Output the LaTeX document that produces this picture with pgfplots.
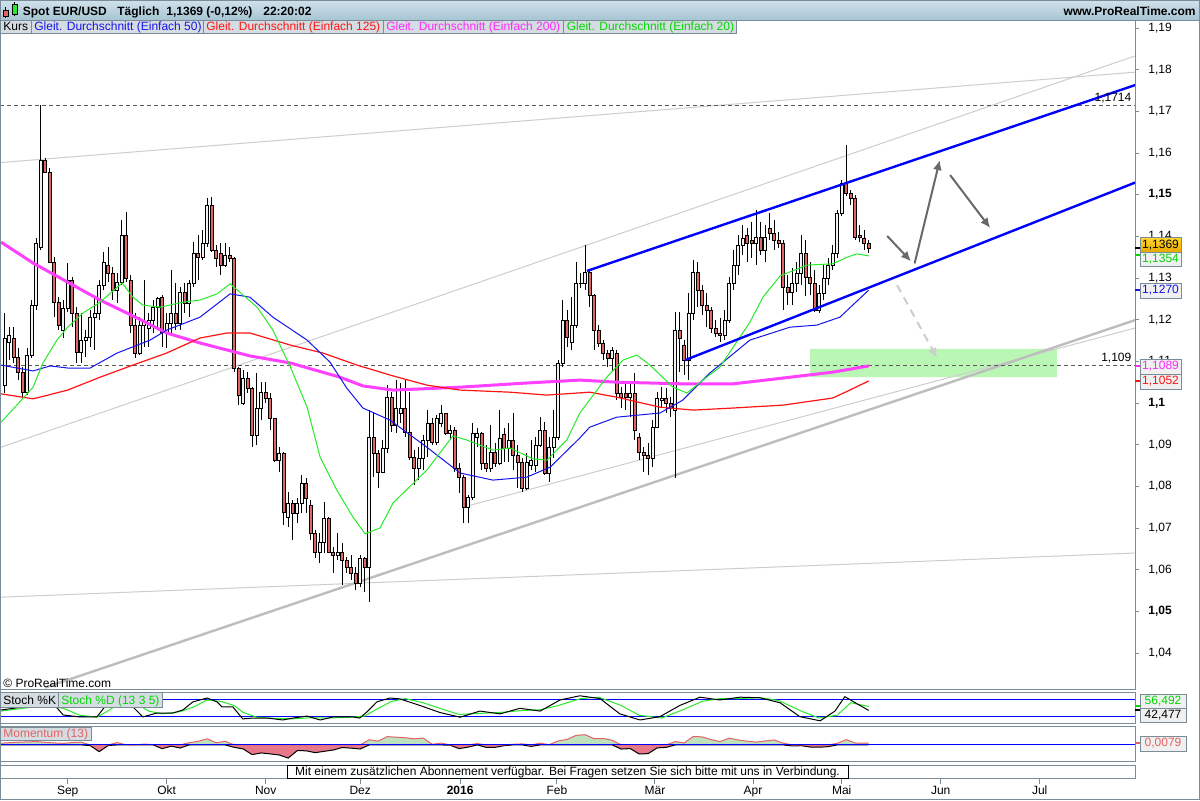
\documentclass[border=0pt]{standalone}
\usepackage{pgfplots}
\pgfplotsset{compat=1.18}
\usepackage{pgfplotstable}
\usepackage{fontspec}
\setmainfont{Liberation Sans}
\usetikzlibrary{arrows.meta}

\definecolor{prtgray}{RGB}{122,140,152}
\definecolor{candlered}{RGB}{224,102,98}
\definecolor{candlewhite}{RGB}{242,242,242}
\definecolor{ma200}{RGB}{255,64,255}
\definecolor{ma20}{RGB}{40,235,40}
\definecolor{ma50}{RGB}{20,20,235}
\definecolor{ma125}{RGB}{255,20,20}
\definecolor{trendgray}{RGB}{205,205,205}
\definecolor{chanblue}{RGB}{0,0,255}
\definecolor{rectgreen}{RGB}{186,246,180}
\definecolor{arrowgray}{RGB}{105,105,105}
\definecolor{hdrtop}{RGB}{208,226,236}
\definecolor{hdrbot}{RGB}{166,196,210}
\definecolor{legfill}{RGB}{214,221,226}
\definecolor{boxfill}{RGB}{240,240,240}
\definecolor{goldtop}{RGB}{255,214,50}
\definecolor{goldbot}{RGB}{232,168,0}
\definecolor{momred}{RGB}{230,120,138}
\definecolor{momgreen}{RGB}{190,226,190}
\definecolor{momline}{RGB}{228,98,98}
\definecolor{txtgreen}{RGB}{0,215,0}
\definecolor{txtmag}{RGB}{255,40,255}

\pgfplotstableread[row sep=\\]{
i O H L C\\
-14 1.1041 1.1216 1.1024 1.1156\\
-13 1.1146 1.1182 1.1103 1.1161\\
-12 1.1156 1.1182 1.1096 1.1110\\
-11 1.1110 1.1132 1.1055 1.1074\\
-10 1.1074 1.1086 1.1014 1.1026\\
-9 1.1026 1.1132 1.1019 1.1115\\
-8 1.1115 1.1247 1.1108 1.1235\\
-7 1.1235 1.1396 1.1223 1.1384\\
-6 1.1374 1.1715 1.1367 1.1583\\
-5 1.1583 1.1588 1.1552 1.1554\\
-4 1.1554 1.1564 1.1336 1.1338\\
-3 1.1338 1.1350 1.1206 1.1242\\
-2 1.1242 1.1254 1.1175 1.1187\\
-1 1.1175 1.1247 1.1156 1.1226\\
0 1.1226 1.1336 1.1218 1.1295\\
1 1.1295 1.1302 1.1182 1.1216\\
2 1.1216 1.1230 1.1096 1.1122\\
3 1.1122 1.1216 1.1096 1.1151\\
4 1.1151 1.1175 1.1110 1.1158\\
5 1.1158 1.1223 1.1134 1.1206\\
6 1.1206 1.1252 1.1127 1.1216\\
7 1.1216 1.1295 1.1199 1.1283\\
8 1.1283 1.1362 1.1271 1.1338\\
9 1.1331 1.1374 1.1290 1.1312\\
10 1.1312 1.1326 1.1247 1.1271\\
11 1.1271 1.1312 1.1240 1.1290\\
12 1.1290 1.1439 1.1283 1.1403\\
13 1.1403 1.1458 1.1290 1.1300\\
14 1.1295 1.1307 1.1168 1.1187\\
15 1.1187 1.1216 1.1108 1.1120\\
16 1.1120 1.1206 1.1115 1.1187\\
17 1.1185 1.1295 1.1134 1.1194\\
18 1.1180 1.1216 1.1134 1.1199\\
19 1.1199 1.1247 1.1168 1.1230\\
20 1.1230 1.1254 1.1182 1.1252\\
21 1.1254 1.1259 1.1134 1.1170\\
22 1.1170 1.1216 1.1132 1.1192\\
23 1.1192 1.1319 1.1168 1.1216\\
24 1.1216 1.1288 1.1175 1.1192\\
25 1.1192 1.1278 1.1175 1.1266\\
26 1.1266 1.1288 1.1216 1.1240\\
27 1.1240 1.1295 1.1206 1.1286\\
28 1.1286 1.1386 1.1278 1.1358\\
29 1.1360 1.1403 1.1295 1.1350\\
30 1.1350 1.1415 1.1343 1.1384\\
31 1.1384 1.1492 1.1374 1.1473\\
32 1.1473 1.1494 1.1362 1.1365\\
33 1.1365 1.1379 1.1326 1.1348\\
34 1.1358 1.1384 1.1307 1.1329\\
35 1.1329 1.1384 1.1326 1.1353\\
36 1.1353 1.1374 1.1338 1.1348\\
37 1.1348 1.1350 1.1074 1.1084\\
38 1.1082 1.1086 1.0995 1.1017\\
39 1.1000 1.1079 1.0995 1.1060\\
40 1.1060 1.1074 1.1024 1.1034\\
41 1.1034 1.1038 1.0894 1.0923\\
42 1.0923 1.1072 1.0899 1.0988\\
43 1.0988 1.1050 1.0959 1.1026\\
44 1.1026 1.1050 1.1000 1.1010\\
45 1.1010 1.1024 1.0935 1.0962\\
46 1.0962 1.0964 1.0858 1.0863\\
47 1.0863 1.0894 1.0834 1.0880\\
48 1.0880 1.0882 1.0707 1.0738\\
49 1.0726 1.0786 1.0702 1.0760\\
50 1.0760 1.0767 1.0671 1.0736\\
51 1.0736 1.0772 1.0712 1.0760\\
52 1.0760 1.0827 1.0736 1.0808\\
53 1.0808 1.0820 1.0736 1.0772\\
54 1.0755 1.0767 1.0671 1.0686\\
55 1.0686 1.0695 1.0628 1.0642\\
56 1.0642 1.0688 1.0616 1.0666\\
57 1.0666 1.0762 1.0640 1.0724\\
58 1.0724 1.0726 1.0640 1.0642\\
59 1.0642 1.0654 1.0592 1.0635\\
60 1.0635 1.0688 1.0623 1.0642\\
61 1.0642 1.0664 1.0563 1.0621\\
62 1.0621 1.0630 1.0592 1.0606\\
63 1.0606 1.0635 1.0575 1.0592\\
64 1.0592 1.0606 1.0551 1.0568\\
65 1.0568 1.0635 1.0558 1.0626\\
66 1.0626 1.0630 1.0546 1.0606\\
67 1.0606 1.0983 1.0522 1.0918\\
68 1.0918 1.0978 1.0822 1.0878\\
69 1.0878 1.0887 1.0796 1.0834\\
70 1.0834 1.0911 1.0832 1.0892\\
71 1.0892 1.1043 1.0880 1.1014\\
72 1.1014 1.1026 1.0930 1.0947\\
73 1.0947 1.1055 1.0928 1.0988\\
74 1.0976 1.1048 1.0952 1.0988\\
75 1.0988 1.1055 1.0918 1.0930\\
76 1.0930 1.1026 1.0863 1.0870\\
77 1.0870 1.0887 1.0803 1.0842\\
78 1.0842 1.0894 1.0815 1.0866\\
79 1.0866 1.0923 1.0839 1.0911\\
80 1.0911 1.0983 1.0870 1.0950\\
81 1.0950 1.0964 1.0899 1.0906\\
82 1.0906 1.0971 1.0899 1.0964\\
83 1.0952 1.0995 1.0942 1.0974\\
84 1.0974 1.0976 1.0923 1.0926\\
85 1.0926 1.0947 1.0911 1.0933\\
86 1.0933 1.0942 1.0834 1.0844\\
87 1.0844 1.0856 1.0784 1.0822\\
88 1.0822 1.0827 1.0712 1.0750\\
89 1.0750 1.0779 1.0712 1.0774\\
90 1.0774 1.0952 1.0767 1.0926\\
91 1.0918 1.0940 1.0894 1.0926\\
92 1.0926 1.0930 1.0839 1.0856\\
93 1.0856 1.0899 1.0834 1.0842\\
94 1.0842 1.0947 1.0834 1.0882\\
95 1.0882 1.0904 1.0846 1.0856\\
96 1.0856 1.0983 1.0851 1.0914\\
97 1.0925 1.0940 1.0858 1.0892\\
98 1.0892 1.0952 1.0858 1.0911\\
99 1.0911 1.0976 1.0839 1.0873\\
100 1.0873 1.0899 1.0796 1.0858\\
101 1.0858 1.0868 1.0786 1.0796\\
102 1.0796 1.0880 1.0791 1.0858\\
103 1.0849 1.0911 1.0839 1.0861\\
104 1.0849 1.0918 1.0834 1.0899\\
105 1.0899 1.0966 1.0894 1.0933\\
106 1.0933 1.0954 1.0827 1.0830\\
107 1.0832 1.0918 1.0810 1.0894\\
108 1.0894 1.0983 1.0868 1.0918\\
109 1.0918 1.1103 1.0911 1.1094\\
110 1.1094 1.1247 1.1086 1.1199\\
111 1.1199 1.1223 1.1134 1.1158\\
112 1.1146 1.1254 1.1127 1.1187\\
113 1.1187 1.1338 1.1180 1.1288\\
114 1.1286 1.1312 1.1276 1.1288\\
115 1.1288 1.1379 1.1271 1.1314\\
116 1.1314 1.1319 1.1230 1.1257\\
117 1.1257 1.1262 1.1127 1.1175\\
118 1.1175 1.1187 1.1134 1.1144\\
119 1.1144 1.1151 1.1103 1.1120\\
120 1.1120 1.1127 1.1086 1.1108\\
121 1.1108 1.1134 1.1074 1.1127\\
122 1.1120 1.1127 1.1007 1.1024\\
123 1.1024 1.1038 1.0988 1.1014\\
124 1.1024 1.1048 1.0983 1.1014\\
125 1.1014 1.1048 1.0966 1.1024\\
126 1.1024 1.1072 1.0911 1.0935\\
127 1.0918 1.0928 1.0863 1.0882\\
128 1.0882 1.0894 1.0834 1.0875\\
129 1.0875 1.0904 1.0827 1.0868\\
130 1.0868 1.0959 1.0846 1.0942\\
131 1.0942 1.1026 1.0940 1.1012\\
132 1.1007 1.1038 1.0990 1.1012\\
133 1.1012 1.1036 1.0976 1.0998\\
134 1.1000 1.1014 1.0966 1.0986\\
135 1.0983 1.1218 1.0820 1.1175\\
136 1.1175 1.1218 1.1074 1.1154\\
137 1.1137 1.1151 1.1067 1.1101\\
138 1.1101 1.1264 1.1055 1.1216\\
139 1.1216 1.1343 1.1199 1.1314\\
140 1.1314 1.1338 1.1230 1.1271\\
141 1.1271 1.1283 1.1211 1.1235\\
142 1.1235 1.1264 1.1182 1.1221\\
143 1.1221 1.1230 1.1168 1.1178\\
144 1.1178 1.1199 1.1158 1.1168\\
145 1.1168 1.1204 1.1146 1.1163\\
146 1.1163 1.1223 1.1151 1.1199\\
147 1.1199 1.1302 1.1192 1.1288\\
148 1.1288 1.1367 1.1271 1.1331\\
149 1.1331 1.1403 1.1307 1.1377\\
150 1.1377 1.1427 1.1355 1.1394\\
151 1.1401 1.1420 1.1338 1.1384\\
152 1.1391 1.1434 1.1348 1.1382\\
153 1.1382 1.1463 1.1331 1.1398\\
154 1.1398 1.1434 1.1355 1.1367\\
155 1.1367 1.1427 1.1338 1.1398\\
156 1.1420 1.1456 1.1391 1.1408\\
157 1.1408 1.1439 1.1367 1.1391\\
158 1.1391 1.1410 1.1372 1.1384\\
159 1.1384 1.1391 1.1223 1.1278\\
160 1.1278 1.1307 1.1235 1.1266\\
161 1.1266 1.1324 1.1235 1.1286\\
162 1.1286 1.1338 1.1266 1.1312\\
163 1.1312 1.1403 1.1283 1.1360\\
164 1.1360 1.1391 1.1257 1.1302\\
165 1.1302 1.1338 1.1259 1.1288\\
166 1.1288 1.1319 1.1218 1.1223\\
167 1.1223 1.1283 1.1216 1.1264\\
168 1.1264 1.1331 1.1247 1.1298\\
169 1.1298 1.1348 1.1283 1.1331\\
170 1.1331 1.1379 1.1319 1.1358\\
171 1.1358 1.1463 1.1348 1.1454\\
172 1.1454 1.1535 1.1449 1.1528\\
173 1.1528 1.1619 1.1497 1.1502\\
174 1.1502 1.1511 1.1475 1.1492\\
175 1.1492 1.1499 1.1391 1.1398\\
176 1.1403 1.1427 1.1386 1.1398\\
177 1.1396 1.1415 1.1367 1.1384\\
178 1.1384 1.1391 1.1360 1.1370\\
}\candles

\pgfplotstableread[row sep=\\]{
i m\\
-14.8 0.0080\\
-11 0.0120\\
-7 0.0150\\
-4 0.0100\\
-1 0.0070\\
1 0.0106\\
3 0.0125\\
5 -0.0029\\
7 -0.0300\\
9 -0.0026\\
11 0.0103\\
13 0.0005\\
15 -0.0002\\
17 0.0036\\
19 0.0014\\
21 -0.0168\\
23 -0.0055\\
25 -0.0137\\
27 0.0099\\
29 0.0163\\
31 0.0274\\
33 0.0096\\
35 0.0161\\
37 -0.0108\\
39 -0.0180\\
41 -0.0435\\
43 -0.0358\\
45 -0.0403\\
47 -0.0449\\
49 -0.0588\\
51 -0.0257\\
53 -0.0262\\
55 -0.0346\\
57 -0.0286\\
59 -0.0228\\
61 -0.0117\\
63 -0.0144\\
65 -0.0182\\
67 0.0232\\
69 0.0168\\
71 0.0372\\
73 0.0346\\
75 0.0324\\
77 0.0274\\
79 0.0305\\
81 0.0028\\
83 0.0082\\
85 -0.0014\\
87 -0.0166\\
89 -0.0096\\
91 0.0060\\
93 -0.0108\\
95 -0.0108\\
97 -0.0034\\
99 0.0029\\
101 0.0046\\
103 -0.0065\\
105 0.0077\\
107 0.0012\\
109 0.0180\\
111 0.0247\\
113 0.0430\\
115 0.0456\\
117 0.0276\\
119 0.0290\\
121 0.0209\\
123 -0.0185\\
125 -0.0163\\
127 -0.0406\\
129 -0.0389\\
131 -0.0132\\
133 -0.0110\\
135 0.0151\\
137 0.0087\\
139 0.0379\\
141 0.0360\\
143 0.0236\\
145 0.0151\\
147 0.0302\\
149 0.0223\\
151 0.0168\\
153 0.0127\\
155 0.0177\\
157 0.0223\\
159 0.0079\\
161 -0.0045\\
163 -0.0034\\
165 -0.0094\\
167 -0.0103\\
169 -0.0077\\
171 0.0070\\
173 0.0236\\
175 0.0086\\
177 0.0082\\
178 0.0082\\
}\momtab

\pgfplotsset{
  panelx/.style={scale only axis, width=567pt, xmin=-14.822, xmax=237.178},
  mainpos/.style={panelx, at={(0.5pt,-10pt)}, anchor=north west, height=334.5pt, ymin=1.03136, ymax=1.19192},
}
\newcommand{\sz}{\fontsize{6}{7}\selectfont}

\begin{document}
\begin{tikzpicture}
\path[use as bounding box] (0,0) rectangle (600pt,-400pt);
\fill[white] (0,0) rectangle (600pt,-400pt);

% ---------- main panel: frame, ticks, trend lines, wicks
\begin{axis}[mainpos,
  axis line style={draw=prtgray, line width=0.5pt},
  xtick=\empty,
  ytick={1.04,1.05,1.06,1.07,1.08,1.09,1.1,1.11,1.12,1.13,1.14,1.15,1.16,1.17,1.18,1.19},
  yticklabels={{1,04},{\bfseries 1,05},{1,06},{1,07},{1,08},{1,09},{\bfseries 1,1},{1,11},{1,12},{1,13},{1,14},{\bfseries 1,15},{1,16},{1,17},{1,18},{1,19}},
  ytick pos=right, yticklabel pos=right, tick align=outside, major tick length=2pt,
  ytick style={draw=prtgray, line width=0.5pt},
  yticklabel style={font=\sz, xshift=1.2pt}]
  \addplot[fill=rectgreen, draw=none] coordinates {(165,1.1062) (219.8,1.1062) (219.8,1.1130) (165,1.1130) (165,1.1062)};
  \addplot[trendgray, line width=0.5pt] coordinates {(-15.04,1.1577) (237.2,1.1794)};
  \addplot[trendgray, line width=0.5pt] coordinates {(-15.04,1.0893) (237.2,1.1833)};
  \addplot[trendgray, line width=0.5pt] coordinates {(-15.04,1.0534) (237.2,1.0640)};
  \addplot[trendgray, line width=0.5pt] coordinates {(87.8,1.0750) (237.2,1.1180)};
  \addplot[trendgray!92!black, line width=1.2pt] coordinates {(-5.04,1.0317) (237.2,1.1199)};
  \addplot[black!65, dash pattern=on 2pt off 1.5pt, line width=0.5pt] coordinates {(-15,1.1714) (237.2,1.1714)};
  \addplot[black!65, dash pattern=on 2pt off 1.5pt, line width=0.5pt] coordinates {(-15,1.109) (237.2,1.109)};
  \addplot[only marks, mark=*, mark size=0pt, mark options={draw=none, fill=none},
    error bars/.cd, y dir=minus, y explicit, error mark=none,
    error bar style={draw=black, line width=0.5pt}]
    table[x=i, y=H, y error minus expr=\thisrow{H}-\thisrow{L}] {\candles};
\end{axis}

% ---------- candle bodies
\begin{axis}[mainpos, hide axis, ybar stacked, bar width=1.5pt]
  \addplot[draw=none, fill=none] table[x=i, y expr={min(\thisrow{O},\thisrow{C})}] {\candles};
  \addplot[draw=black, line width=0.45pt, fill=candlewhite] table[x=i, y expr={max(\thisrow{C}-\thisrow{O},0)}] {\candles};
  \addplot[draw=black, line width=0.45pt, fill=candlered] table[x=i, y expr={max(\thisrow{O}-\thisrow{C},0)}] {\candles};
\end{axis}

% ---------- moving averages, channel, arrows
\begin{axis}[mainpos, hide axis]
  \addplot[ma200, line width=1.5pt] coordinates {(-14.8,1.1386) (-7.7,1.1336) (0,1.1290) (7.2,1.1247) (14.5,1.1209) (22,1.1168) (29.4,1.1144) (40.5,1.1113) (49.5,1.1096) (60.5,1.1062) (65.6,1.1041) (72.3,1.1031) (87.2,1.1038) (102,1.1048) (113.8,1.1055) (122,1.1050) (136.7,1.1046) (147.9,1.1046) (159,1.1060) (170,1.1074) (178,1.1089)};
  \addplot[ma125, line width=0.6pt] coordinates {(-14.8,1.1022) (-7.7,1.1010) (0,1.1031) (7.2,1.1062) (14.5,1.1091) (22,1.1120) (29.4,1.1156) (35.4,1.1168) (40.5,1.1168) (49.5,1.1139) (56.7,1.1120) (64.3,1.1091) (72.3,1.1065) (79.8,1.1043) (87.2,1.1031) (98.3,1.1026) (106.5,1.1019) (116,1.1026) (122,1.1014) (131.6,1.0990) (139,1.0983) (147.9,1.0988) (159,1.0995) (170,1.1012) (173.8,1.1031) (178,1.1053)};
  \addplot[ma50, line width=0.5pt] coordinates {(-14.8,1.1091) (-7.7,1.1077) (-3.9,1.1089) (0,1.1084) (5,1.1084) (11,1.1120) (18.3,1.1151) (22,1.1175) (29.4,1.1206) (36.1,1.1262) (40.5,1.1254) (45.6,1.1206) (53.2,1.1151) (58.3,1.1098) (62,1.1036) (65.6,1.0988) (71.6,1.0959) (79.8,1.0894) (87.2,1.0832) (94.5,1.0815) (102,1.0822) (107.2,1.0846) (113.8,1.0916) (116,1.0942) (122,1.0966) (131.6,1.0976) (136.7,1.1007) (142.7,1.1072) (151.6,1.1151) (160.5,1.1182) (166.5,1.1187) (171.6,1.1206) (178,1.1271)};
  \addplot[ma20, line width=0.5pt] coordinates {(-14.8,1.0954) (-11.3,1.0995) (-7.7,1.1038) (-5.5,1.1096) (-2.4,1.1151) (0,1.1182) (3.4,1.1216) (7.2,1.1242) (12.1,1.1288) (14.5,1.1254) (16.7,1.1235) (20.5,1.1230) (25.6,1.1242) (29.4,1.1247) (33.2,1.1262) (36.1,1.1286) (42.1,1.1230) (45.6,1.1175) (49.5,1.1086) (53.2,1.0990) (56.1,1.0870) (59.8,1.0791) (63.4,1.0726) (66.1,1.0686) (69.4,1.0700) (72.3,1.0760) (79.8,1.0839) (85.6,1.0921) (88.7,1.0911) (94.5,1.0887) (98.3,1.0892) (103.4,1.0866) (106.5,1.0863) (110.9,1.0911) (113.8,1.0976) (119.8,1.1062) (123.4,1.1103) (126.5,1.1115) (129.4,1.1091) (134.5,1.1038) (137.6,1.1024) (142,1.1062) (144.9,1.1086) (148.2,1.1139) (151.6,1.1194) (154.5,1.1254) (158.3,1.1305) (164.3,1.1331) (170,1.1334) (173.2,1.1350) (175.4,1.1358) (178,1.1353)};
  \addplot[chanblue, line width=1.2pt] coordinates {(115.4,1.1317) (237.2,1.1763)};
  \addplot[chanblue, line width=1.2pt] coordinates {(137.2,1.1103) (237.2,1.1529)};
  \addplot[arrowgray, line width=1pt, -{Latex[length=5pt,width=4.5pt]}] coordinates {(182.1,1.1401) (187.4,1.1340)};
  \addplot[arrowgray, line width=1pt, -{Latex[length=5pt,width=4.5pt]}] coordinates {(188.2,1.1335) (193.8,1.1583)};
  \addplot[arrowgray, line width=1pt, -{Latex[length=5pt,width=4.5pt]}] coordinates {(196.1,1.1547) (205.0,1.1420)};
  \addplot[trendgray, line width=1pt, dash pattern=on 4pt off 3pt, -{Latex[length=5pt,width=4.5pt]}] coordinates {(184.3,1.1283) (193.2,1.1108)};
  \node[anchor=south east, font=\sz, inner sep=0.8pt] at (axis cs:236.8,1.1714) {1,1714};
  \node[anchor=south east, font=\sz, inner sep=0.8pt] at (axis cs:236.8,1.109) {1,109};
\end{axis}

% ---------- stochastic panel
\begin{axis}[panelx, at={(0.5pt,-346pt)}, anchor=north west, height=15.5pt,
  ymin=-2.9, ymax=108.6, xtick=\empty, ytick=\empty,
  axis line style={draw=prtgray, line width=0.5pt}]
  \addplot[chanblue, line width=0.5pt] coordinates {(-15,80) (237.2,80)};
  \addplot[chanblue, line width=0.5pt] coordinates {(-15,20) (237.2,20)};
  \addplot[ma20, line width=0.5pt] coordinates {(-14.8,40) (-5,60) (-1,50) (2.7,25) (6.5,18) (9.4,45) (12,75) (15,70) (18,40) (21,30) (25,38) (28,55) (31,80) (34,75) (37,60) (39,35) (42,18) (46,14) (50,12) (54,16) (58,15) (63,18) (66,22) (69,50) (72,75) (75,85) (79,70) (83,48) (87,28) (92,32) (96,35) (101,42) (105,45) (109,60) (114,85) (118,90) (123,60) (127,25) (132,15) (136,40) (141,75) (145,85) (149,85) (154,88) (158,78) (163,40) (167,15) (171,25) (174,70) (178,56.5)};
  \addplot[black, line width=0.5pt] coordinates {(-14.8,44) (-3.3,69) (-1,26) (2.7,19) (6.5,19) (9.4,80) (11.6,92) (14.5,55) (16.7,19) (19.8,33) (23.4,33) (25.6,44) (27.8,73) (31,87) (33.2,73) (34.3,55) (36.7,55) (38.9,12) (41.2,15) (44.3,15) (47.8,8) (50.1,15) (53.2,22) (56.1,8) (59,19) (63.4,19) (64.9,15) (66.5,37) (68.7,73) (71.6,87) (73.8,84) (78.3,60) (82.7,35) (87.2,18) (91.6,40) (96.1,30) (100.5,50) (105,40) (109.4,80) (113.8,95) (118.3,85) (122.7,30) (127.2,8) (131.6,20) (136,60) (140.5,90) (144.9,80) (149.4,90) (153.8,88) (158.3,70) (162.7,20) (167.2,5) (170.5,40) (172.7,92) (175,70) (178,42.5)};
\end{axis}

% ---------- momentum panel
\begin{axis}[panelx, at={(0.5pt,-363.25pt)}, anchor=north west, height=17.25pt,
  ymin=-0.072, ymax=0.0824, xtick=\empty, ytick=\empty,
  axis line style={draw=prtgray, line width=0.5pt}]
  \addplot[draw=none, fill=momgreen] table[x=i, y expr={max(\thisrow{m},0)}] {\momtab} \closedcycle;
  \addplot[draw=none, fill=momred] table[x=i, y expr={min(\thisrow{m},0)}] {\momtab} \closedcycle;
  \addplot[black, line width=0.5pt] table[x=i, y expr={min(\thisrow{m},0)}] {\momtab};
  \addplot[momline, line width=0.5pt] table[x=i, y expr={max(\thisrow{m},0)}] {\momtab};
  \addplot[chanblue, line width=0.5pt] coordinates {(-15,0) (237.2,0)};
\end{axis}

% ---------- footer panel with month axis
\begin{axis}[panelx, at={(0.5pt,-382.5pt)}, anchor=north west, height=6.5pt,
  ymin=0, ymax=1, ytick=\empty,
  xtick={0,22,44,65,87.2,108.7,130.5,152.3,172,194,216},
  xticklabels={Sep,Okt,Nov,Dez,\textbf{2016},Feb,Mär,Apr,Mai,Jun,Jul},
  xtick pos=bottom, tick align=outside, major tick length=3pt,
  xtick style={draw=prtgray, line width=0.5pt},
  xticklabel style={font=\sz, yshift=2.6pt},
  axis line style={draw=prtgray, line width=0.5pt}]
\end{axis}

% ---------- decorations in pixel coordinates
\begin{scope}[x=0.5pt, y=-0.5pt]
  % header
  \shade[top color=hdrtop, bottom color=hdrbot] (0,0) rectangle (1200,20);
  \draw[prtgray, line width=0.5pt] (0,20) -- (1200,20);
  \draw[black, line width=0.4pt] (5.5,7) -- (5.5,18);
  \filldraw[fill=candlered, draw=black, line width=0.4pt] (3,10) rectangle (8,16);
  \draw[black, line width=0.4pt] (14.5,2) -- (14.5,16);
  \filldraw[fill=ma20, draw=black, line width=0.4pt] (12,4) rectangle (17,14);
  \node[anchor=base west, font=\sz\bfseries, inner sep=0] at (22.5,15) {Spot EUR/USD};
  \node[anchor=base west, font=\sz\bfseries, inner sep=0] at (117,15) {Täglich};
  \node[anchor=base west, font=\sz\bfseries, inner sep=0] at (166,15) {1,1369 (-0,12\%)};
  \node[anchor=base west, font=\sz\bfseries, inner sep=0] at (263,15) {22:20:02};
  \node[anchor=base east, font=\sz\bfseries, inner sep=0] at (1196,15) {www.ProRealTime.com};
  % legend row
  \tikzset{leg/.style={draw=prtgray, fill=legfill, line width=0.5pt}}
  \draw[leg] (0.5,20.5) rectangle (31,33.5);
  \draw[leg] (31,20.5) rectangle (203,33.5);
  \draw[leg] (203,20.5) rectangle (383,33.5);
  \draw[leg] (383,20.5) rectangle (563.5,33.5);
  \draw[leg] (563.5,20.5) rectangle (736.5,33.5);
  \node[anchor=base west, font=\sz, inner sep=0] at (3,30.5) {Kurs};
  \node[anchor=base west, font=\sz, inner sep=0, text=ma50] at (34,30.5) {Gleit. Durchschnitt (Einfach 50)};
  \node[anchor=base west, font=\sz, inner sep=0, text=ma125] at (206,30.5) {Gleit. Durchschnitt (Einfach 125)};
  \node[anchor=base west, font=\sz, inner sep=0, text=txtmag] at (386,30.5) {Gleit. Durchschnitt (Einfach 200)};
  \node[anchor=base west, font=\sz, inner sep=0, text=txtgreen] at (566.5,30.5) {Gleit. Durchschnitt (Einfach 20)};
  % copyright
  \node[anchor=base west, font=\sz, inner sep=0] at (3,687) {\textcopyright\ ProRealTime.com};
  % right value boxes
  \tikzset{vb/.style={draw=prtgray, fill=boxfill, line width=0.5pt}}
  \draw[black, line width=0.6pt] (1135,248) -- (1140,248);
  \draw[txtgreen, line width=0.6pt] (1135,255) -- (1140,255);
  \draw[ma50, line width=0.6pt] (1135,290) -- (1140,290);
  \draw[txtmag, line width=0.6pt] (1135,366) -- (1140,366);
  \draw[ma125, line width=0.6pt] (1135,381) -- (1140,381);
  \shade[top color=goldtop, bottom color=goldbot] (1140,237.5) rectangle (1181,252);
  \draw[prtgray, line width=0.5pt] (1140,237.5) rectangle (1181,252);
  \node[font=\sz, inner sep=0] at (1160.5,245) {1,1369};
  \draw[vb] (1140,252) rectangle (1181,266);
  \node[font=\sz, inner sep=0, text=txtgreen] at (1160.5,259.5) {1,1354};
  \draw[vb] (1140,283) rectangle (1181,298);
  \node[font=\sz, inner sep=0, text=ma50] at (1160.5,290.5) {1,1270};
  \draw[vb] (1140,359) rectangle (1181,374);
  \node[font=\sz, inner sep=0, text=txtmag] at (1160.5,366.5) {1,1089};
  \draw[vb] (1140,374) rectangle (1181,389);
  \node[font=\sz, inner sep=0, text=ma125] at (1160.5,381.5) {1,1052};
  % stochastic labels
  \draw[txtgreen, line width=0.6pt] (1135,706) -- (1140,706);
  \draw[black, line width=0.6pt] (1135,710) -- (1140,710);
  \draw[vb] (1140,694) rectangle (1186,708);
  \node[font=\sz, inner sep=0, text=txtgreen] at (1163,701) {56,492};
  \draw[vb] (1140,708) rectangle (1186,722);
  \node[font=\sz, inner sep=0] at (1163,715) {42,477};
  \draw[leg] (0.5,692.5) rectangle (58.5,707);
  \node[anchor=base west, font=\sz, inner sep=0] at (3,704) {Stoch \%K};
  \draw[leg] (58.5,692.5) rectangle (162,707);
  \node[anchor=base west, font=\sz, inner sep=0, text=txtgreen] at (61,704) {Stoch \%D (13 3 5)};
  % momentum labels
  \draw[momline, line width=0.6pt] (1135,743) -- (1140,743);
  \draw[vb] (1140,736) rectangle (1186,751);
  \node[font=\sz, inner sep=0, text=momline] at (1163,743.5) {0,0079};
  \draw[leg] (0.5,727) rectangle (91,740);
  \node[anchor=base west, font=\sz, inner sep=0, text=momline] at (3,737.5) {Momentum (13)};
  % footer message
  \draw[black, fill=white, line width=0.5pt] (287,765.5) rectangle (848,778);
  \node[anchor=base, font=\sz, inner sep=0] at (567.5,775.5) {Mit einem zusätzlichen Abonnement verfügbar. Bei Fragen setzen Sie sich bitte mit uns in Verbindung.};
  % outer frame
  \draw[prtgray, line width=0.5pt] (0.5,0.5) rectangle (1199.5,799.5);
\end{scope}
\end{tikzpicture}
\end{document}
